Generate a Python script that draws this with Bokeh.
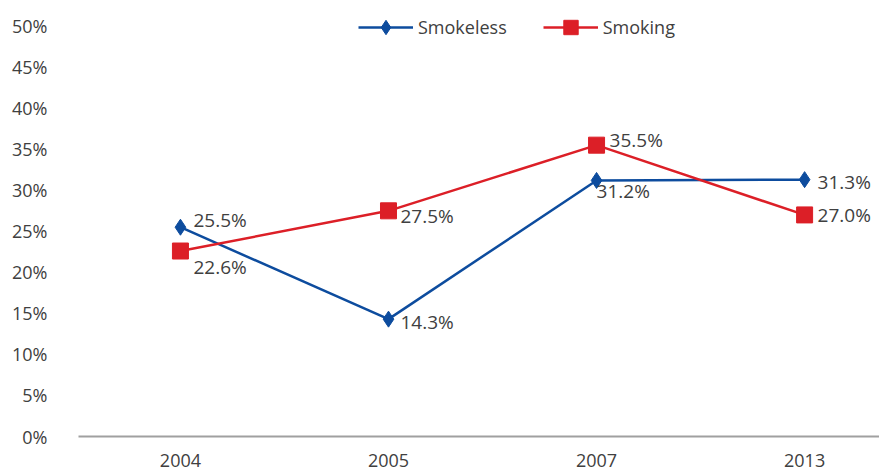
from bokeh.plotting import figure
from bokeh.models import ColumnDataSource, Legend, LegendItem, FixedTicker, Range1d
from bokeh.core.properties import value
from bokeh.embed import file_html
from bokeh.resources import INLINE

years = ["2004", "2005", "2007", "2013"]
smokeless = [25.5, 14.3, 31.2, 31.3]
smoking = [22.6, 27.5, 35.5, 27.0]
y_ticks = [0, 5, 10, 15, 20, 25, 30, 35, 40, 45, 50]

# label placement (layout only; screen px, positive dy = down)
smokeless_dx = [13, 12, 0, 13]
smokeless_dy = [-7, 3, 11, 2]
smoking_dx = [13, 12, 13, 13]
smoking_dy = [16, 5, -5, 0]

FONT = "Open Sans"
TXT = "#404040"
BLUE = "#0D4C9E"
RED = "#DC1F27"

idx = list(range(len(years)))

p = figure(width=879, height=472, output_backend="svg", toolbar_location=None,
           x_range=Range1d(-0.49, 3.36), y_range=Range1d(0, 51.3))
p.min_border_left = 78
p.min_border_right = 0
p.min_border_top = 15
p.min_border_bottom = 36
p.outline_line_color = None
p.xgrid.visible = False
p.ygrid.visible = False
p.background_fill_color = "white"
p.border_fill_color = "white"

src_a = ColumnDataSource(dict(x=idx, y=smokeless, lab=[f"{v:.1f}%" for v in smokeless],
                              dx=smokeless_dx, dy=smokeless_dy))
src_b = ColumnDataSource(dict(x=idx, y=smoking, lab=[f"{v:.1f}%" for v in smoking],
                              dx=smoking_dx, dy=smoking_dy))

la = p.line("x", "y", source=src_a, line_color=BLUE, line_width=2.5)
sa = p.scatter("x", "y", source=src_a, marker="diamond", size=16, fill_color=BLUE, line_color=BLUE)
lb = p.line("x", "y", source=src_b, line_color=RED, line_width=2.5)
sb = p.scatter("x", "y", source=src_b, marker="square", size=16, fill_color=RED, line_color=RED)

for src in (src_a, src_b):
    p.text("x", "y", text="lab", source=src, x_offset="dx", y_offset="dy",
           text_font=value(FONT), text_font_size="19px", text_color=TXT,
           text_align="left", text_baseline="middle")

p.yaxis.ticker = FixedTicker(ticks=y_ticks)
p.yaxis.major_label_overrides = {t: f"{t}%" for t in y_ticks}
p.yaxis.axis_line_color = None
p.yaxis.major_tick_line_color = None
p.yaxis.minor_tick_line_color = None
p.yaxis.major_label_standoff = 25
p.yaxis.major_label_text_font = FONT
p.yaxis.major_label_text_font_size = "18px"
p.yaxis.major_label_text_color = TXT

p.xaxis.ticker = FixedTicker(ticks=idx)
p.xaxis.major_label_overrides = {i: y for i, y in zip(idx, years)}
p.xaxis.axis_line_color = "#A0A0A0"
p.xaxis.axis_line_width = 2
p.xaxis.major_tick_line_color = None
p.xaxis.minor_tick_line_color = None
p.xaxis.major_label_standoff = 11
p.xaxis.major_label_text_font = FONT
p.xaxis.major_label_text_font_size = "18px"
p.xaxis.major_label_text_color = TXT

legend = Legend(items=[LegendItem(label="Smokeless", renderers=[la, sa]),
                       LegendItem(label="Smoking", renderers=[lb, sb])],
                orientation="horizontal", location=(280, 391))
legend.border_line_color = None
legend.background_fill_alpha = 0
legend.glyph_width = 55
legend.glyph_height = 36
legend.label_text_font = FONT
legend.label_text_font_size = "18px"
legend.label_text_color = TXT
legend.spacing = 36
legend.padding = 0
legend.margin = 0
legend.label_standoff = 5
p.add_layout(legend)

open("out.html", "w").write(file_html(p, INLINE))
